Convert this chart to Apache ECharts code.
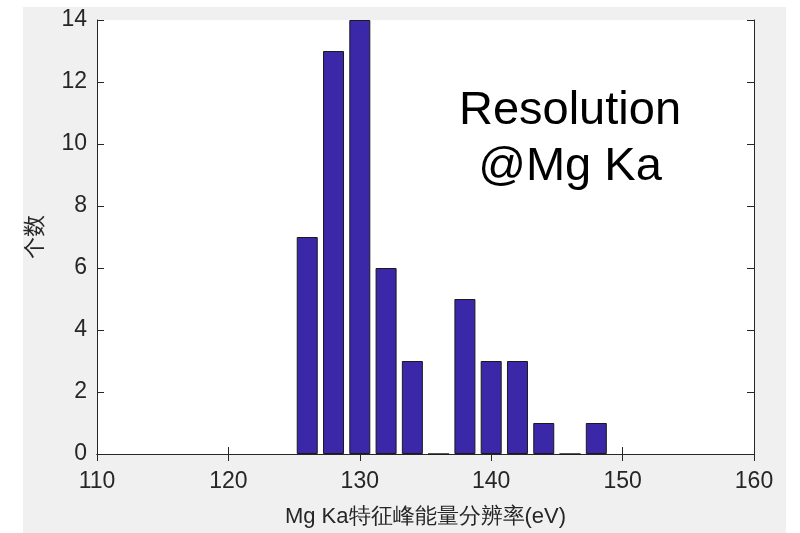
<!DOCTYPE html>
<html>
<head>
<meta charset="utf-8">
<script src="https://cdn.jsdelivr.net/npm/echarts@6/dist/echarts.min.js"></script>
<style>
  html, body { margin: 0; padding: 0; background: #fff; }
  #chart { width: 800px; height: 533px; }
</style>
</head>
<body>
<div id="chart"></div>
<script>
// bin centres (eV) and counts
const binCenters = [126, 128, 130, 132, 134, 136, 138, 140, 142, 144, 146, 148];
const counts = [7, 13, 14, 6, 3, 0, 5, 3, 3, 1, 0, 1];
const xTicks = [110, 120, 130, 140, 150, 160];
const yTicks = [0, 2, 4, 6, 8, 10, 12, 14];

const axisColor = '#262626';
const font = '"Liberation Sans", Arial, sans-serif';

let myChart = echarts.init(document.getElementById('chart'));
myChart.setOption({
  backgroundColor: '#fff',
  animation: false,
  graphic: [
    {
      type: 'rect',
      z: -100,
      shape: { x: 23, y: 7, width: 763, height: 526 },
      style: { fill: '#f0f0f0' }
    },
    {
      type: 'text',
      z: 100,
      style: {
        x: 570,
        y: 83,
        text: 'Resolution\n@Mg Ka',
        textAlign: 'center',
        font: '47px ' + font,
        lineHeight: 56,
        fill: '#000'
      }
    }
  ],
  grid: {
    left: 97,
    right: 46,
    top: 20,
    bottom: 77,
    show: true,
    backgroundColor: '#fff',
    borderWidth: 0
  },
  xAxis: [
    {
      type: 'value',
      min: xTicks[0],
      max: xTicks[xTicks.length - 1],
      interval: 10,
      name: 'Mg Ka特征峰能量分辨率(eV)',
      nameLocation: 'middle',
      nameGap: 52,
      nameTextStyle: { color: axisColor, fontSize: 22, fontFamily: font },
      axisLine: { show: true, onZero: false, lineStyle: { color: axisColor, width: 1 } },
      axisTick: { show: true, inside: true, length: 7, lineStyle: { color: axisColor } },
      axisLabel: { color: axisColor, fontSize: 23, fontFamily: font, margin: 16 },
      splitLine: { show: false }
    },
    {
      type: 'value',
      position: 'top',
      min: xTicks[0],
      max: xTicks[xTicks.length - 1],
      interval: 10,
      axisLine: { show: true, lineStyle: { color: axisColor, width: 1 } },
      axisTick: { show: true, inside: true, length: 7, lineStyle: { color: axisColor } },
      axisLabel: { show: false },
      splitLine: { show: false }
    }
  ],
  yAxis: [
    {
      type: 'value',
      min: yTicks[0],
      max: yTicks[yTicks.length - 1],
      interval: 2,
      name: '个数',
      nameLocation: 'middle',
      nameGap: 52,
      nameTextStyle: { color: axisColor, fontSize: 22, fontFamily: '"Noto Sans CJK SC", sans-serif' },
      axisLine: { show: true, lineStyle: { color: axisColor, width: 1 } },
      axisTick: { show: true, inside: true, length: 7, lineStyle: { color: axisColor } },
      axisLabel: { color: axisColor, fontSize: 23, fontFamily: font, margin: 10 },
      splitLine: { show: false }
    },
    {
      type: 'value',
      position: 'right',
      min: yTicks[0],
      max: yTicks[yTicks.length - 1],
      interval: 2,
      axisLine: { show: true, lineStyle: { color: axisColor, width: 1 } },
      axisTick: { show: true, inside: true, length: 7, lineStyle: { color: axisColor } },
      axisLabel: { show: false },
      splitLine: { show: false }
    }
  ],
  series: [{
    type: 'bar',
    xAxisIndex: 0,
    yAxisIndex: 0,
    barWidth: 21,
    data: binCenters.map((c, i) => [c, counts[i]]),
    itemStyle: {
      color: '#3a28a8',
      borderColor: '#1a1a1a',
      borderWidth: 1
    }
  }]
});
</script>
</body>
</html>
